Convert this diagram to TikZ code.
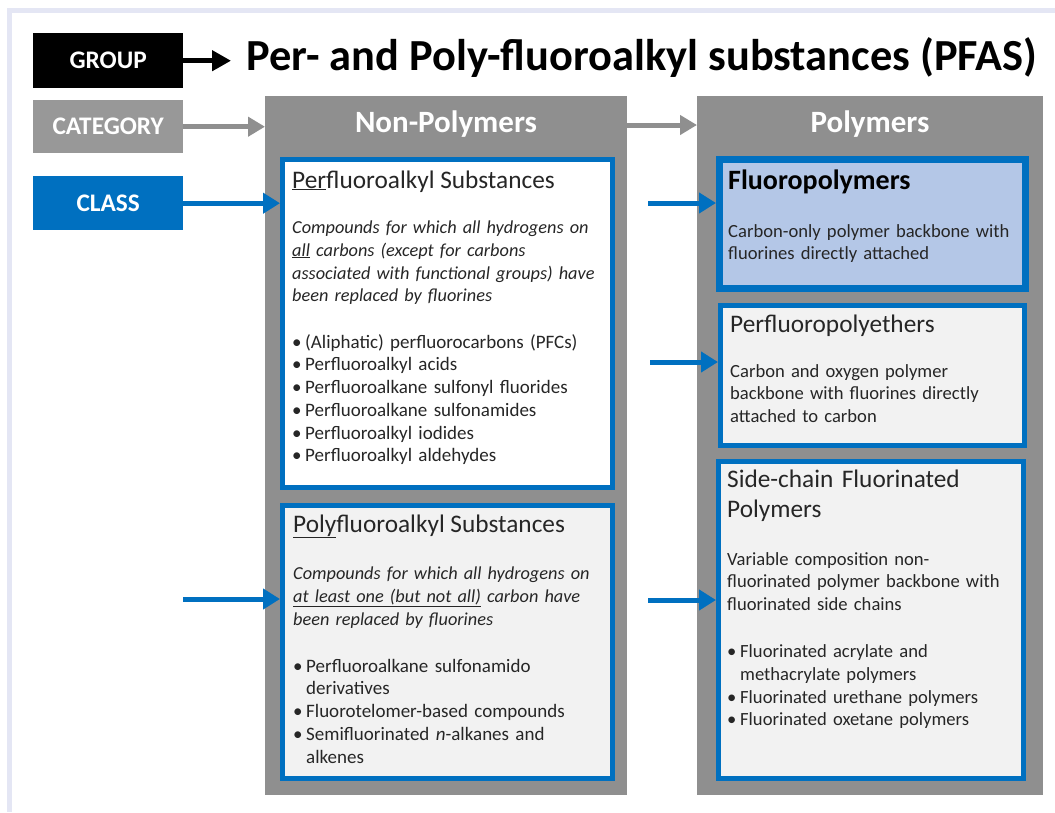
\documentclass[tikz,border=0pt]{standalone}
\usepackage{fontspec}
\setmainfont{Carlito}
\usetikzlibrary{arrows.meta}
\definecolor{pgray}{HTML}{8F8F8F}
\definecolor{cgray}{HTML}{989898}
\definecolor{pblue}{HTML}{0070C0}
\definecolor{lblue}{HTML}{B4C7E7}
\definecolor{lfill}{HTML}{F2F2F2}
\definecolor{txt}{HTML}{262626}
\definecolor{framec}{HTML}{E4E6F4}
\newcommand\mystrut[1]{\rule{0pt}{#1}}
\newcommand\pbul{\makebox[13pt][l]{•}}
\newcommand\pind{\hspace*{13pt}}
\begin{document}
\begin{tikzpicture}[x=1pt,y=-1pt,
  lbl/.style={minimum width=150pt, minimum height=54pt, inner sep=0, anchor=north west, text=white, font=\bfseries\fontsize{25.3}{30}\selectfont},
  panel/.style={fill=pgray, inner sep=0, anchor=north west},
  hdr/.style={anchor=base, inner sep=0, text=white, font=\bfseries\fontsize{31}{37}\selectfont},
  cbox/.style={draw=pblue, line width=4.5pt, inner sep=0, anchor=north west},
  ttl/.style={anchor=base west, inner sep=0, text=txt, font=\fontsize{25.3}{30}\selectfont},
  body/.style={anchor=north west, inner sep=0, align=left, text width=320pt, text=txt, font=\fontsize{19}{22.7}\selectfont},
  bodyi/.style={body, font=\fontsize{18.3}{22.9}\selectfont\itshape},
  barrow/.style={draw=pblue, line width=5pt, -{Triangle[length=17pt,width=20pt]}},
  garrow/.style={draw=pgray, line width=5pt, -{Triangle[length=17pt,width=19pt]}},
  karrow/.style={draw=black, line width=4.5pt, -{Triangle[length=19pt,width=20pt]}}
]
\useasboundingbox (0,0) rectangle (1055,812);
\draw[framec, line width=4.5pt] (9.5,812) -- (9.5,10.5) -- (1055,10.5);

% legend labels
\node[lbl, fill=black, minimum height=55pt] (group) at (33,33) {GROUP};
\node[lbl, fill=cgray, minimum height=53pt] (category) at (33,100) {CATEGORY};
\node[lbl, fill=pblue] (class) at (33,176) {CLASS};

% title
\node[anchor=base west, inner sep=0, text=black, font=\bfseries\fontsize{44.4}{53}\selectfont] (title) at (246,70) {Per- and Poly-fluoroalkyl substances (PFAS)};
\coordinate (titlein) at ([xshift=-15pt]title.west);
\draw[karrow] (group.east) -- (titlein |- group.east);

% panels
\node[panel, minimum width=362pt, minimum height=699pt] (nonpoly) at (265,96) {};
\node[panel, minimum width=346pt, minimum height=699pt] (poly) at (697,96) {};
\node[hdr] (nonpolyhdr) at (446,132) {Non-Polymers};
\node[hdr] (polyhdr) at (870,132) {Polymers};

% class boxes
\node[cbox, fill=white, minimum width=330pt, minimum height=328pt] (perf) at (280,157) {};
\node[cbox, fill=lfill, minimum width=330pt, minimum height=273pt] (polyf) at (280,503) {};
\node[cbox, fill=lblue, line width=6.5pt, minimum width=306pt, minimum height=129pt] (fluoro) at (716,156) {};
\node[cbox, fill=lfill, minimum width=304pt, minimum height=140pt] (pfpe) at (718,303) {};
\node[cbox, fill=lfill, minimum width=305pt, minimum height=317pt] (side) at (716,459) {};

% perfluoroalkyl
\node[ttl] (perfT) at (292,188) {\underline{Per}fluoroalkyl Substances};
\node[bodyi] (perfD) at (292,217) {\mystrut{16pt}Compounds for which all hydrogens on\\
\underline{all} carbons (except for carbons\\
associated with functional groups) have\\
been replaced by fluorines};
\node[body] (perfL) at (292,332) {\mystrut{16pt}\pbul(Aliphatic) perfluorocarbons (PFCs)\\
\pbul Perfluoroalkyl acids\\
\pbul Perfluoroalkane sulfonyl fluorides\\
\pbul Perfluoroalkane sulfonamides\\
\pbul Perfluoroalkyl iodides\\
\pbul Perfluoroalkyl aldehydes};

% polyfluoroalkyl
\node[ttl] (polyT) at (293,532) {\underline{Poly}fluoroalkyl Substances};
\node[bodyi] (polyD) at (293,563) {\mystrut{16pt}Compounds for which all hydrogens on\\
\underline{at least one (but not all)} carbon have\\
been replaced by fluorines};
\node[body] (polyL) at (293,656) {\mystrut{16pt}\pbul Perfluoroalkane sulfonamido\\
\pind derivatives\\
\pbul Fluorotelomer-based compounds\\
\pbul Semifluorinated \textit{n}-alkanes and\\
\pind alkenes};

% fluoropolymers
\node[ttl, text=black, font=\bfseries\fontsize{28}{33}\selectfont] (fluoroT) at (728,189) {Fluoropolymers};
\node[body, font=\fontsize{18.6}{22.7}\selectfont] (fluoroD) at (728,221) {\mystrut{16pt}Carbon-only polymer backbone with\\
fluorines directly attached};

% perfluoropolyethers
\node[ttl] (pfpeT) at (730,332) {Perfluoropolyethers};
\node[body, font=\fontsize{18.6}{22.7}\selectfont] (pfpeD) at (730,361) {\mystrut{16pt}Carbon and oxygen polymer\\
backbone with fluorines directly\\
attached to carbon};

% side-chain
\node[body, font=\fontsize{25.3}{30}\selectfont] (sideT) at (727,467) {\mystrut{20pt}Side-chain Fluorinated\\
Polymers};
\node[body, font=\fontsize{18.6}{22.7}\selectfont] (sideD) at (727,549) {\mystrut{16pt}Variable composition non-\\
fluorinated polymer backbone with\\
fluorinated side chains};
\node[body, font=\fontsize{18.6}{22.9}\selectfont] (sideL) at (727,641) {\mystrut{16pt}\pbul Fluorinated acrylate and\\
\pind methacrylate polymers\\
\pbul Fluorinated urethane polymers\\
\pbul Fluorinated oxetane polymers};

% connectors
\draw[garrow] (category.east) -- (category.east -| nonpoly.west);
\draw[garrow] ([yshift=-29pt]nonpoly.north east) -- ([yshift=-29pt]poly.north west);
\draw[barrow] (class.east) -- (class.east -| perf.west);
\coordinate (polyin) at (183,599);
\draw[barrow] (polyin) -- (polyin -| polyf.west);
\coordinate (fin) at (648,203);
\draw[barrow] (fin) -- (fin -| fluoro.west);
\coordinate (pin) at (650,362);
\draw[barrow] (pin) -- (pin -| pfpe.west);
\coordinate (sin) at (648,600);
\draw[barrow] (sin) -- (sin -| side.west);
\end{tikzpicture}
\end{document}
